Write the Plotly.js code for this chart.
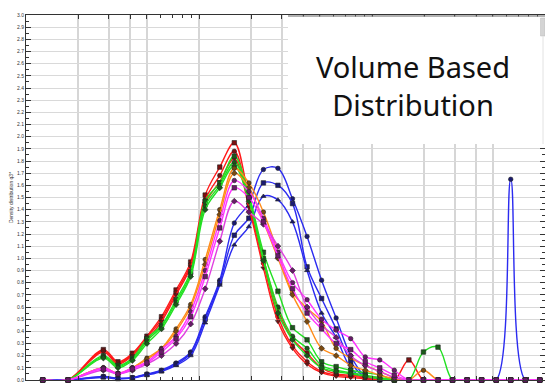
<!DOCTYPE html>
<html><head><meta charset="utf-8">
<script src="https://cdn.plot.ly/plotly-3.0.1.min.js"></script>
<style>html,body{margin:0;padding:0;background:#fff}#chart{width:545px;height:383px}</style>
</head><body><div id="chart"></div>
<script>
// particle size classes (log axis)
const sizeX = [1.25,1.75,2.80,3.40,4.12,5.00,6.07,7.37,8.95,10.86,13.18,16.00,19.42,23.57,28.60,34.71,42.13,51.13,62.05,75.31,91.4,110.9,134.6,163.4,198.3,240.7,292.1,354.5,430.3,522.2,633.8,769.2,933.5];

const red1 = [0,0,0.25,0.15,0.22,0.36,0.52,0.74,0.97,1.52,1.75,1.95,1.50,1.00,0.58,0.34,0.22,0.10,0.05,0.04,0.03,0.02,0,0.165,0,0,0,0,0,0,0,0,0];
const red2 = [0,0,0.24,0.14,0.21,0.35,0.50,0.72,0.95,1.48,1.68,1.88,1.45,0.96,0.52,0.28,0.15,0.07,0.04,0.03,0.02,0.01,0,0,0,0,0,0,0,0,0,0,0];
const red3 = [0,0,0.23,0.13,0.20,0.33,0.48,0.70,0.93,1.45,1.63,1.82,1.42,0.92,0.48,0.26,0.13,0.06,0.03,0.02,0.01,0,0,0,0,0,0,0,0,0,0,0,0];
const green1 = [0,0,0.20,0.12,0.18,0.34,0.45,0.66,0.89,1.47,1.62,1.84,1.52,1.05,0.73,0.43,0.33,0.15,0.11,0.08,0.06,0.04,0,0,0.23,0.27,0,0,0,0,0,0,0];
const green2 = [0,0,0.19,0.11,0.17,0.32,0.44,0.64,0.87,1.43,1.60,1.79,1.50,1.00,0.60,0.36,0.26,0.12,0.08,0.06,0.04,0.02,0,0,0,0,0,0,0,0,0,0,0];
const green3 = [0,0,0.18,0.10,0.16,0.30,0.42,0.62,0.85,1.40,1.58,1.76,1.47,0.98,0.55,0.33,0.20,0.10,0.07,0.05,0.03,0.01,0,0,0,0,0,0,0,0,0,0,0];
const orange1 = [0,0,0.10,0.055,0.10,0.18,0.26,0.42,0.62,0.99,1.40,1.74,1.62,1.38,1.05,0.72,0.59,0.48,0.26,0.18,0.12,0.07,0.02,0,0.08,0,0,0,0,0,0,0,0];
const orange2 = [0,0,0.10,0.05,0.10,0.17,0.25,0.40,0.60,0.95,1.36,1.70,1.58,1.30,1.00,0.70,0.48,0.26,0.20,0.12,0.08,0.04,0.01,0,0,0,0,0,0,0,0,0,0];
const magenta1 = [0,0,0.10,0.055,0.10,0.15,0.25,0.36,0.56,0.90,1.31,1.64,1.55,1.33,1.05,0.80,0.66,0.50,0.41,0.34,0.19,0.165,0.08,0,0,0,0,0,0,0,0,0,0];
const magenta2 = [0,0,0.08,0.05,0.08,0.13,0.20,0.30,0.46,0.75,1.14,1.47,1.38,1.28,1.10,0.90,0.60,0.45,0.35,0.20,0.12,0.07,0.02,0,0,0,0,0,0,0,0,0,0];
const magenta3 = [0,0,0.09,0.05,0.09,0.14,0.23,0.34,0.52,0.85,1.25,1.58,1.50,1.30,1.02,0.75,0.55,0.42,0.30,0.25,0.15,0.10,0.04,0,0,0,0,0,0,0,0,0,0];
const blue1 = [0,0,0.03,0.015,0.02,0.05,0.08,0.14,0.23,0.52,0.82,1.29,1.45,1.73,1.74,1.49,1.18,0.82,0.51,0.20,0.03,0,0,0,0,0,0,0,0,0,1.65,0,0];
const blue2 = [0,0,0.025,0.012,0.018,0.045,0.075,0.13,0.22,0.50,0.80,1.19,1.33,1.62,1.60,1.45,0.93,0.67,0.42,0.15,0.02,0,0,0,0,0,0,0,0,0,0,0,0];
const blue3 = [0,0,0.02,0.01,0.015,0.04,0.07,0.12,0.20,0.47,0.78,1.11,1.26,1.51,1.48,1.30,0.90,0.55,0.35,0.10,0.01,0,0,0,0,0,0,0,0,0,0,0,0];

const xGridVals = [1,2,3,4,5,10,20,30,40,50,100,200,300,400,500,1000];
const xMinorVals = [6,7,8,9,60,70,80,90,600,700,800,900];
const yTitle = 'Density distribution q3*';
const boxText = 'Volume Based<br>Distribution';

const seriesDefs = [
  {name:'B1', y:blue1, line:'#2b2bf0', mk:'#1a1a70', sym:'circle'},
  {name:'B2', y:blue2, line:'#2b2bf0', mk:'#1a1a70', sym:'square'},
  {name:'B3', y:blue3, line:'#2b2bf0', mk:'#1a1a70', sym:'triangle-up'},
  {name:'R1', y:red1, line:'#ff1a1a', mk:'#7a1010', sym:'square'},
  {name:'R2', y:red2, line:'#ff1a1a', mk:'#7a1010', sym:'circle'},
  {name:'R3', y:red3, line:'#ff1a1a', mk:'#7a1010', sym:'triangle-down'},
  {name:'G1', y:green1, line:'#22e022', mk:'#1a5a1a', sym:'square'},
  {name:'G2', y:green2, line:'#22e022', mk:'#1a5a1a', sym:'circle'},
  {name:'G3', y:green3, line:'#22e022', mk:'#1a5a1a', sym:'diamond'},
  {name:'O1', y:orange1, line:'#ff8c1a', mk:'#7a4a10', sym:'circle'},
  {name:'O2', y:orange2, line:'#ff8c1a', mk:'#7a4a10', sym:'diamond'},
  {name:'M1', y:magenta1, line:'#ff33ff', mk:'#6a1a6a', sym:'circle'},
  {name:'M2', y:magenta2, line:'#e040e0', mk:'#6a1a6a', sym:'diamond'},
  {name:'M3', y:magenta3, line:'#ff33ff', mk:'#6a1a6a', sym:'square'}
];

const traces = seriesDefs.map(s => ({
  type:'scatter', mode:'lines+markers', x:sizeX, y:s.y, name:s.name,
  line:{color:s.line, width:1.4, shape:'spline', smoothing:1},
  marker:{color:s.mk, size:4.5, symbol:s.sym, line:{color:'#222', width:0.6}},
  cliponaxis:false, showlegend:false
}));

const L = 26, R = 545, T = 15, B = 380;
const px = v => (v - L) / (R - L);
const py = v => (B - v) / (B - T);

const layout = {
  width:545, height:383,
  margin:{l:L, r:545-R, t:T, b:383-B, pad:0},
  paper_bgcolor:'#fff', plot_bgcolor:'#fff',
  showlegend:false,
  xaxis:{
    type:'log', range:[0,3], tickmode:'array', tickvals:xGridVals, showticklabels:false,
    showgrid:true, gridcolor:'#d6d6d6', gridwidth:2,
    ticks:'inside', ticklen:4, tickcolor:'#333', tickwidth:1,
    showline:true, linecolor:'#333', linewidth:1, mirror:'ticks', zeroline:false,
    minor:{tickmode:'array', tickvals:xMinorVals, ticks:'inside', ticklen:3, tickcolor:'#333', showgrid:false},
    automargin:false
  },
  yaxis:{
    range:[0,3], dtick:0.1, tick0:0, tickformat:'.1f',
    showgrid:true, gridcolor:'#d9d9d9', gridwidth:1,
    ticks:'inside', ticklen:5, tickcolor:'#333', tickwidth:1,
    showline:true, linecolor:'#333', linewidth:1, mirror:'ticks', zeroline:false,
    minor:{dtick:0.05, ticks:'inside', ticklen:3, tickcolor:'#333', showgrid:false},
    tickfont:{family:'Liberation Sans, Arial, sans-serif', size:5, color:'#333'},
    title:{text:yTitle, font:{family:'Liberation Sans, Arial, sans-serif', size:5, color:'#333'}, standoff:3},
    automargin:false
  },
  shapes:[
    {type:'rect', xref:'paper', yref:'paper', x0:px(288), x1:px(546), y0:py(144), y1:py(16.5),
     fillcolor:'#ffffff', line:{width:0}, layer:'above'},
    {type:'line', xref:'paper', yref:'paper', x0:px(288), x1:px(545), y0:py(16), y1:py(16),
     line:{color:'#666', width:1}, layer:'above'},
    {type:'rect', xref:'paper', yref:'paper', x0:px(540.5), x1:px(545), y0:py(36), y1:py(18),
     fillcolor:'#d4d4d4', line:{color:'#bbb', width:0.5}, layer:'above'},
    {type:'line', xref:'paper', yref:'paper', x0:px(543), x1:px(543), y0:py(144), y1:py(36),
     line:{color:'#e2e2e2', width:1}, layer:'above'}
  ],
  annotations:[
    {xref:'paper', yref:'paper', x:px(413), y:py(86), text:boxText, showarrow:false,
     xanchor:'center', yanchor:'middle', align:'center',
     font:{family:'Noto Sans, Open Sans, sans-serif', size:29, color:'#111'}}
  ]
};

Plotly.newPlot('chart', traces, layout, {staticPlot:true, displayModeBar:false});
</script>
</body></html>
